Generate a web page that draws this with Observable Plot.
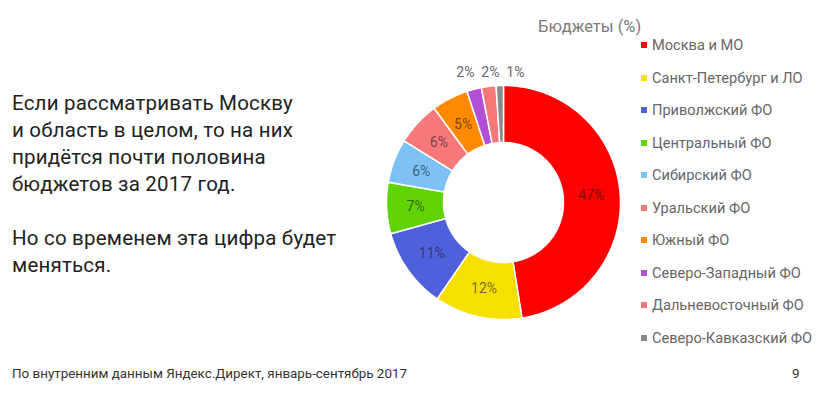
<!DOCTYPE html>
<html><head><meta charset="utf-8">
<script src="https://cdn.jsdelivr.net/npm/d3@7"></script>
<script src="https://cdn.jsdelivr.net/npm/@observablehq/plot@0.6"></script>
<style>
body{margin:0;width:823px;height:393px;background:#fff;position:relative;overflow:hidden;font-family:Roboto,"Noto Sans",sans-serif}
#lead{position:absolute;left:12px;top:90px;font-size:20.5px;line-height:27px;color:#222;white-space:nowrap;letter-spacing:0.2px}
#chart{position:absolute;left:363px;top:62px}
#ltitle{position:absolute;left:538px;top:17px;font-size:16.5px;color:#7a7a7a}
#legend{position:absolute;left:641px;top:29px}
#legend .lg-swatches{font-size:14.6px;color:#666;font-family:Roboto,"Noto Sans",sans-serif;margin:0}
#legend .lg-swatch{height:32.5px;padding:0;margin:0;display:flex;align-items:center}
#legend .lg-swatch svg{margin-right:5px}
#footer{position:absolute;left:12px;top:366px;font-size:13.4px;color:#333;white-space:nowrap}
#page{position:absolute;left:792px;top:366px;font-size:13.4px;color:#333}
</style></head><body>
<div id="lead">Если рассматривать Москву<br>и область в целом, то на них<br>придётся почти половина<br>бюджетов за 2017 год.<br><br>Но со временем эта цифра будет<br>меняться.</div>
<div id="chart"></div>
<div id="ltitle">Бюджеты (%)</div>
<div id="legend"></div>
<div id="footer">По внутренним данным Яндекс.Директ, январь-сентябрь 2017</div>
<div id="page">9</div>
<script>
const regions = ["Москва и МО","Санкт-Петербург и ЛО","Приволжский ФО","Центральный ФО","Сибирский ФО","Уральский ФО","Южный ФО","Северо-Западный ФО","Дальневосточный ФО","Северо-Кавказский ФО"];
const shares = [47,12,11,7,6,6,5,2,2,1];
const colors = ["#fe0000","#f7e000","#4f60da","#5fd400","#7cc2f4","#f77878","#ff8a00","#b14fd6","#f77878","#8a8a8a"];

const R_OUT = 117, R_IN = 60, R_LAB = 88, R_OUTLAB = 133, MIN_PCT_INSIDE = 5;

const slices = regions.map((name, i) => ({name, value: shares[i]}));
const arcs = d3.pie().sort(null).value(d => d.value)(slices);

// polygon outline for each slice
const pts = [];
for (const a of arcs) {
  const n = Math.max(2, Math.ceil((a.endAngle - a.startAngle) / 0.02));
  for (let k = 0; k <= n; k++) {
    const t = a.startAngle + (a.endAngle - a.startAngle) * k / n;
    pts.push({name: a.data.name, x: R_OUT * Math.sin(t), y: R_OUT * Math.cos(t)});
  }
  for (let k = n; k >= 0; k--) {
    const t = a.startAngle + (a.endAngle - a.startAngle) * k / n;
    pts.push({name: a.data.name, x: R_IN * Math.sin(t), y: R_IN * Math.cos(t)});
  }
}

const inside = [], outside = [];
for (const a of arcs) {
  const m = (a.startAngle + a.endAngle) / 2;
  if (a.data.value >= MIN_PCT_INSIDE) inside.push({label: a.data.value + "%", x: R_LAB * Math.sin(m), y: R_LAB * Math.cos(m)});
  else outside.push({label: a.data.value + "%", x: R_OUTLAB * Math.sin(m), y: R_OUTLAB * 0.975});
}
// spread outside labels so they don't overlap
outside.sort((p, q) => p.x - q.x);
const gap = 25;
const mean = d3.mean(outside, d => d.x) + 5;
outside.forEach((d, i) => d.x = mean + (i - (outside.length - 1) / 2) * gap);

const color = {domain: regions, range: colors};
const chart = Plot.plot({
  width: 280, height: 280, margin: 0,
  x: {domain: [-140, 140], axis: null},
  y: {domain: [-140, 140], axis: null},
  color,
  style: {fontFamily: "Roboto, 'Noto Sans', sans-serif", background: "transparent"},
  marks: [
    Plot.line(pts, {x: "x", y: "y", z: "name", fill: "name", stroke: "white", strokeWidth: 1.5, curve: "linear-closed"}),
    Plot.text(inside, {x: "x", y: "y", text: "label", fill: "#1a1a2a", fillOpacity: 0.62, fontSize: 14}),
    Plot.text(outside, {x: "x", y: "y", text: "label", fill: "#666", fontSize: 14})
  ]
});
document.getElementById("chart").appendChild(chart);

const legend = Plot.legend({color: {type: "ordinal", ...color}, columns: 1, swatchSize: 6, className: "lg"});
document.getElementById("legend").appendChild(legend);
</script>
</body></html>
